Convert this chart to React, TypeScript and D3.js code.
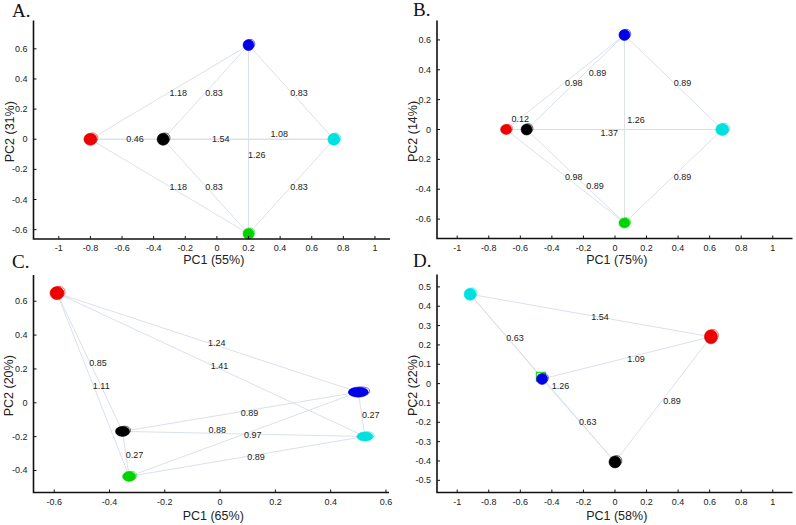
import React from 'react'
import * as d3 from 'd3'

// group centroids per panel (PC1, PC2)
const colorOf: Record<string, string> = {
    red: '#ee0000', black: '#000000', blue: '#0000e6', cyan: '#00e0e0', green: '#00d400'
}

const pointsA = [
    { c: 'red', x: -0.8, y: 0 },
    { c: 'black', x: -0.34, y: 0 },
    { c: 'blue', x: 0.2, y: 0.625 },
    { c: 'cyan', x: 0.74, y: 0 },
    { c: 'green', x: 0.2, y: -0.627 },
]
const edgesA = [
    ['red', 'blue', '1.18', -0.244, 0.31],
    ['black', 'blue', '0.83', -0.018, 0.31],
    ['blue', 'cyan', '0.83', 0.52, 0.31],
    ['red', 'black', '0.46', -0.518, 0],
    ['red', 'cyan', '1.54', 0.024, 0],
    ['black', 'cyan', '1.08', 0.394, 0.035],
    ['blue', 'green', '1.26', 0.252, -0.106],
    ['red', 'green', '1.18', -0.244, -0.32],
    ['black', 'green', '0.83', -0.018, -0.32],
    ['green', 'cyan', '0.83', 0.52, -0.32],
]

const pointsB = [
    { c: 'red', x: -0.69, y: 0 },
    { c: 'black', x: -0.56, y: 0 },
    { c: 'blue', x: 0.06, y: 0.633 },
    { c: 'cyan', x: 0.68, y: 0 },
    { c: 'green', x: 0.06, y: -0.626 },
]
const edgesB = [
    ['black', 'blue', '0.89', -0.11, 0.376],
    ['red', 'blue', '0.98', -0.261, 0.309],
    ['blue', 'cyan', '0.89', 0.428, 0.309],
    ['red', 'black', '0.12', -0.601, 0.072],
    ['blue', 'green', '1.26', 0.133, 0.063],
    ['red', 'cyan', '1.37', -0.036, -0.022],
    ['black', 'cyan', '', 0, 0],
    ['red', 'green', '0.98', -0.261, -0.318],
    ['black', 'green', '0.89', -0.127, -0.38],
    ['green', 'cyan', '0.89', 0.428, -0.318],
]

const pointsC = [
    { c: 'red', x: -0.59, y: 0.648 },
    { c: 'black', x: -0.353, y: -0.169 },
    { c: 'green', x: -0.329, y: -0.435 },
    { c: 'blue', x: 0.5, y: 0.063 },
    { c: 'cyan', x: 0.524, y: -0.199 },
]
const edgesC = [
    ['red', 'blue', '1.24', -0.012, 0.352],
    ['red', 'black', '0.85', -0.442, 0.234],
    ['red', 'cyan', '1.41', -0.002, 0.218],
    ['red', 'green', '1.11', -0.43, 0.1],
    ['black', 'blue', '0.89', 0.106, -0.061],
    ['blue', 'cyan', '0.27', 0.545, -0.071],
    ['black', 'cyan', '0.88', -0.01, -0.163],
    ['green', 'blue', '0.97', 0.118, -0.189],
    ['black', 'green', '0.27', -0.31, -0.307],
    ['green', 'cyan', '0.89', 0.13, -0.323],
]

const pointsD = [
    { c: 'cyan', x: -0.918, y: 0.462 },
    { c: 'red', x: 0.608, y: 0.242 },
    { c: 'green', x: -0.47, y: 0.035 },
    { c: 'blue', x: -0.462, y: 0.024 },
    { c: 'black', x: 0, y: -0.405 },
]
const edgesD = [
    ['cyan', 'red', '1.54', -0.095, 0.345],
    ['cyan', 'green', '0.63', -0.633, 0.237],
    ['blue', 'red', '1.09', 0.133, 0.127],
    ['cyan', 'black', '1.26', -0.346, -0.012],
    ['red', 'black', '0.89', 0.361, -0.089],
    ['blue', 'black', '0.63', -0.173, -0.199],
]

const ticksPM1 = [-1, -0.8, -0.6, -0.4, -0.2, 0, 0.2, 0.4, 0.6, 0.8, 1]
const ticksPM06 = [-0.6, -0.4, -0.2, 0, 0.2, 0.4, 0.6]
const ticksC_y = [-0.4, -0.2, 0, 0.2, 0.4, 0.6]
const ticksD_y = [-0.5, -0.4, -0.3, -0.2, -0.1, 0, 0.1, 0.2, 0.3, 0.4, 0.5]

const panels = [
    {
        letter: 'A.', xLabel: 'PC1 (55%)', yLabel: 'PC2 (31%)', points: pointsA, edges: edgesA,
        xDomain: [-1.16, 1.095], yDomain: [-0.662, 0.788], xTicks: ticksPM1, yTicks: ticksPM06,
        box: { l: 33.5, r: 390, t: 20.5, b: 239 }, letterPos: [12, 17], xLabelY: 260, yLabelX: 10,
        blob: { red: [6.5, 6], black: [6, 6], blue: [5.5, 5.5], cyan: [6, 6], green: [5.5, 5.5] },
    },
    {
        letter: 'B.', xLabel: 'PC1 (75%)', yLabel: 'PC2 (14%)', points: pointsB, edges: edgesB,
        xDomain: [-1.128, 1.125], yDomain: [-0.73, 0.73], xTicks: ticksPM1, yTicks: ticksPM06,
        box: { l: 437, r: 792.5, t: 20.5, b: 238.5 }, letterPos: [413, 16], xLabelY: 260, yLabelX: 413,
        blob: { red: [5.5, 5], black: [5.5, 5.5], blue: [5.5, 5.5], cyan: [6.5, 6], green: [5.5, 5] },
    },
    {
        letter: 'C.', xLabel: 'PC1 (65%)', yLabel: 'PC2 (20%)', points: pointsC, edges: edgesC,
        xDomain: [-0.675, 0.611], yDomain: [-0.53, 0.755], xTicks: ticksPM06, yTicks: ticksC_y,
        box: { l: 33.5, r: 389, t: 275, b: 492.5 }, letterPos: [12, 268], xLabelY: 516, yLabelX: 9,
        blob: { red: [7, 6.5], black: [7, 5], blue: [10, 5], cyan: [8, 4.5], green: [6.5, 5] },
    },
    {
        letter: 'D.', xLabel: 'PC1 (58%)', yLabel: 'PC2 (22%)', points: pointsD, edges: edgesD,
        xDomain: [-1.128, 1.125], yDomain: [-0.563, 0.564], xTicks: ticksPM1, yTicks: ticksD_y,
        box: { l: 437, r: 792.5, t: 274.5, b: 492.5 }, letterPos: [413, 267], xLabelY: 516, yLabelX: 413,
        blob: { red: [6.5, 7], black: [6, 6], blue: [5.5, 5.5], cyan: [6, 6], green: [4.5, 4.5] },
    },
]

const fmt = (d: number) => String(+d.toFixed(1))
const font = '"Liberation Sans", Arial, sans-serif'

function Panel({ p }: { p: any }) {
    const { box } = p
    const x = d3.scaleLinear().domain(p.xDomain).range([box.l, box.r])
    const y = d3.scaleLinear().domain(p.yDomain).range([box.b, box.t])
    const pos: Record<string, { x: number, y: number }> = {}
    p.points.forEach((d: any) => { pos[d.c] = d })

    return (
        <g>
            {/* connecting lines */}
            {p.edges.map((e: any, i: number) => (
                <line key={'e' + i}
                    x1={x(pos[e[0]].x)} y1={y(pos[e[0]].y)}
                    x2={x(pos[e[1]].x)} y2={y(pos[e[1]].y)}
                    stroke="#d6dee8" strokeWidth={0.9} />
            ))}
            {/* group clouds */}
            {p.points.map((d: any) => {
                const [rx, ry] = p.blob[d.c]
                if (p.letter === 'D.' && d.c === 'green') {
                    return <rect key={d.c} x={x(d.x) - rx} y={y(d.y) - ry} width={rx * 2} height={ry * 2}
                        fill="none" stroke={colorOf.green} strokeWidth={1} />
                }
                return (
                    <g key={d.c}>
                        <ellipse cx={x(d.x)} cy={y(d.y)} rx={rx} ry={ry}
                            fill={colorOf[d.c]} stroke={colorOf[d.c]} strokeOpacity={0.6} strokeWidth={1} />
                        <ellipse cx={x(d.x) + rx * 0.35} cy={y(d.y) - ry * 0.2} rx={rx * 0.8} ry={ry * 0.85}
                            fill="none" stroke={colorOf[d.c]} strokeOpacity={0.7} strokeWidth={0.8} />
                    </g>
                )
            })}
            {/* distance labels */}
            {p.edges.filter((e: any) => e[2] !== '').map((e: any, i: number) => (
                <text key={'l' + i} x={x(e[3])} y={y(e[4])} textAnchor="middle" dominantBaseline="central"
                    fontFamily={font} fontSize={9} fill="#222">{e[2]}</text>
            ))}
            {/* axes */}
            <path d={`M${box.l},${box.t}V${box.b}H${box.r}`} fill="none" stroke="#111" strokeWidth={1.6} />
            {p.xTicks.map((t: number) => (
                <g key={'xt' + t}>
                    <line x1={x(t)} x2={x(t)} y1={box.b} y2={box.b - 3} stroke="#111" strokeWidth={1} />
                    <text x={x(t)} y={box.b + 9} textAnchor="middle" dominantBaseline="central"
                        fontFamily={font} fontSize={9} fill="#222">{fmt(t)}</text>
                </g>
            ))}
            {p.yTicks.map((t: number) => (
                <g key={'yt' + t}>
                    <line x1={box.l} x2={box.l + 3} y1={y(t)} y2={y(t)} stroke="#111" strokeWidth={1} />
                    <text x={box.l - 6} y={y(t)} textAnchor="end" dominantBaseline="central"
                        fontFamily={font} fontSize={9} fill="#222">{fmt(t)}</text>
                </g>
            ))}
            <text x={(box.l + box.r) / 2 + 2} y={p.xLabelY} textAnchor="middle" dominantBaseline="central"
                fontFamily={font} fontSize={12.5} fill="#222">{p.xLabel}</text>
            <text transform={`translate(${p.yLabelX},${(box.t + box.b) / 2 + 2}) rotate(-90)`}
                textAnchor="middle" dominantBaseline="central"
                fontFamily={font} fontSize={12.5} fill="#222">{p.yLabel}</text>
            <text x={p.letterPos[0]} y={p.letterPos[1]} fontFamily='"Liberation Serif", "Times New Roman", serif'
                fontSize={19} fill="#111">{p.letter}</text>
        </g>
    )
}

export default function App() {
    return (
        <svg width={796} height={525} style={{ position: 'absolute', left: 0, top: 0, background: '#fff' }}>
            <rect width={796} height={525} fill="#fff" />
            {panels.map(p => <Panel key={p.letter} p={p} />)}
        </svg>
    )
}
